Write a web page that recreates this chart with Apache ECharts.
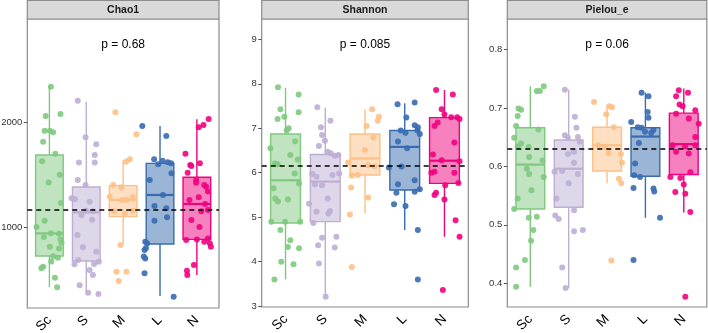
<!DOCTYPE html>
<html><head><meta charset="utf-8">
<script src="https://cdn.jsdelivr.net/npm/echarts@6/dist/echarts.min.js"></script>
<style>html,body{margin:0;padding:0;background:#fff}#c{width:708px;height:333px}</style>
</head><body><div id="c"></div><script>
// ---------- data ----------
const categories = ['Sc', 'S', 'M', 'L', 'N'];
const panelTitles = ['Chao1', 'Shannon', 'Pielou_e'];
const pTexts = ['p = 0.68', 'p = 0.085', 'p = 0.06'];
const meanLines = [1160, 6.15, 0.626];
const yTicksChao1 = [1000, 2000];
const yTicksShannon = [3, 4, 5, 6, 7, 8, 9];
const yTicksPielou = [0.4, 0.5, 0.6, 0.7, 0.8];

// box stats per category: [lower whisker, q1, median, q3, upper whisker]
const chao1Box = [[424, 723, 939, 1688, 2347], [366, 675, 1140, 1382, 2197], [828, 1099, 1258, 1395, 1640], [341, 838, 1306, 1608, 1965], [541, 882, 1220, 1475, 2029]];
const shannonBox = [[3.6, 4.87, 5.83, 6.87, 7.91], [3.21, 4.90, 5.80, 6.41, 7.46], [5.08, 5.95, 6.32, 6.87, 7.43], [4.71, 5.61, 6.58, 6.95, 7.56], [4.56, 5.76, 6.27, 7.24, 7.86]];
const pielouBox = [[0.394, 0.527, 0.603, 0.666, 0.737], [0.392, 0.530, 0.596, 0.645, 0.731], [0.571, 0.592, 0.636, 0.667, 0.705], [0.512, 0.583, 0.651, 0.666, 0.726], [0.521, 0.586, 0.638, 0.691, 0.733]];

// points per category: [jitter offset, value]
const chao1Sc = [[0.04,2340],[0.30,2080],[-0.10,2060],[-0.13,1920],[0.01,1920],[0.10,1905],[-0.17,1815],[0.16,1700],[-0.20,1627],[0.28,1500],[-0.02,1424],[0.31,1230],[-0.13,1060],[-0.35,1000],[0.04,940],[0.26,935],[-0.15,905],[0.30,880],[0.33,850],[0.01,812],[0.26,795],[0.10,720],[0.23,705],[0.05,670],[-0.17,620],[-0.22,605],[0.15,515],[0.21,425]];
const chao1S = [[-0.23,2207],[-0.02,1857],[0.27,1790],[0.23,1688],[0.23,1615],[-0.20,1615],[-0.23,1449],[-0.02,1401],[-0.40,1274],[-0.31,1265],[0.09,1242],[0.00,1156],[0.18,1150],[-0.13,1115],[0.16,1070],[-0.24,924],[-0.09,806],[0.27,764],[-0.22,685],[-0.32,643],[0.21,646],[0.34,668],[0.09,589],[0.18,541],[-0.18,443],[0.05,372],[0.33,360]];
const chao1M = [[-0.21,2095],[0.36,1885],[0.18,1647],[0.08,1624],[-0.27,1401],[-0.05,1380],[-0.36,1290],[0.26,1284],[-0.03,1258],[0.10,1260],[0.26,1156],[-0.25,1150],[0.05,1130],[-0.07,828],[-0.18,573],[0.09,573],[-0.12,484]];
const chao1L = [[-0.48,1965],[0.17,1869],[-0.16,1647],[0.07,1633],[0.21,1618],[0.30,1610],[-0.05,1600],[0.31,1513],[-0.28,1449],[0.08,1306],[-0.15,1200],[0.17,1178],[0.19,1093],[-0.15,1060],[-0.40,860],[-0.35,844],[-0.38,800],[-0.42,780],[-0.44,717],[-0.40,700],[-0.42,557],[0.37,334]];
const chao1N = [[0.32,2032],[0.18,1975],[0.05,1952],[-0.31,1700],[0.08,1608],[-0.18,1592],[-0.15,1583],[-0.25,1519],[-0.02,1449],[-0.02,1423],[0.20,1400],[0.25,1385],[0.30,1340],[0.05,1283],[-0.20,1258],[0.22,1220],[0.30,1162],[0.12,1150],[-0.15,1067],[0.07,1000],[0.30,890],[-0.29,876],[0.00,880],[0.20,860],[0.35,844],[0.38,812],[-0.08,637],[-0.27,583],[-0.26,541]];

const shannonSc = [[-0.19,7.92],[0.33,7.76],[-0.13,7.43],[0.33,7.36],[-0.03,7.26],[-0.20,7.21],[0.08,7.00],[0.03,6.95],[0.24,6.71],[-0.38,6.55],[0.12,6.40],[0.31,6.30],[-0.27,6.21],[-0.20,6.19],[0.23,5.98],[0.34,5.76],[-0.30,5.65],[-0.26,5.42],[-0.19,5.35],[0.06,5.40],[-0.36,4.90],[-0.01,4.90],[0.37,4.90],[-0.13,4.71],[0.12,4.48],[0.06,4.33],[0.34,4.30],[-0.11,4.00],[0.20,3.94],[-0.28,3.60]];
const shannonS = [[-0.20,7.47],[0.13,7.17],[-0.11,7.02],[-0.08,6.85],[-0.01,6.72],[-0.16,6.60],[0.06,6.47],[0.14,6.44],[0.24,6.38],[0.33,6.40],[-0.33,5.97],[-0.22,5.91],[0.18,5.95],[0.35,5.98],[-0.26,5.74],[-0.08,5.72],[0.06,5.42],[-0.41,5.30],[-0.22,5.12],[0.08,5.08],[0.12,5.14],[-0.30,4.87],[-0.08,4.54],[0.28,4.56],[-0.18,4.37],[0.24,4.32],[-0.16,3.96],[0.01,3.21]];
const shannonM = [[0.18,7.43],[0.04,7.05],[0.35,7.26],[0.32,7.17],[0.21,6.79],[0.00,6.51],[-0.42,6.23],[-0.33,5.93],[-0.18,5.95],[0.25,6.14],[0.08,6.17],[-0.35,5.67],[0.08,5.44],[-0.38,5.06],[-0.33,3.88]];
const shannonL = [[-0.18,7.54],[0.25,7.58],[0.04,7.24],[0.25,7.07],[0.33,7.02],[0.32,6.95],[0.38,6.87],[0.02,6.90],[-0.10,6.95],[-0.17,6.70],[0.06,6.55],[-0.40,6.12],[-0.08,6.14],[-0.17,5.74],[0.25,5.83],[-0.21,5.55],[0.25,5.57],[0.38,5.63],[-0.27,5.29],[0.02,5.25],[0.33,4.71],[0.33,3.60]];
const shannonN = [[-0.21,7.86],[0.21,7.76],[-0.07,7.43],[0.00,7.31],[0.17,7.25],[0.32,7.25],[0.38,7.21],[-0.17,7.13],[-0.25,7.05],[0.25,6.68],[-0.29,6.41],[-0.07,6.28],[0.38,6.26],[-0.33,6.00],[-0.25,6.02],[0.25,6.00],[0.02,5.72],[0.35,5.77],[-0.25,5.50],[-0.21,5.55],[0.00,5.40],[0.28,4.93],[0.38,4.56],[-0.04,3.36]];

const pielouSc = [[0.35,0.737],[0.17,0.729],[0.25,0.729],[-0.31,0.699],[-0.24,0.697],[-0.33,0.686],[-0.37,0.669],[0.21,0.663],[-0.42,0.649],[-0.24,0.639],[-0.33,0.634],[-0.04,0.633],[-0.03,0.616],[0.32,0.610],[-0.09,0.596],[0.35,0.582],[-0.03,0.587],[0.03,0.559],[-0.33,0.545],[-0.42,0.527],[-0.04,0.512],[0.17,0.514],[0.08,0.491],[0.02,0.473],[-0.14,0.440],[-0.37,0.427],[-0.37,0.394]];
const pielouS = [[-0.10,0.731],[0.16,0.685],[0.20,0.666],[-0.10,0.653],[-0.02,0.649],[0.24,0.650],[0.29,0.642],[0.14,0.625],[-0.02,0.621],[0.14,0.606],[-0.17,0.592],[-0.37,0.591],[0.24,0.587],[0.00,0.571],[-0.32,0.545],[0.14,0.525],[-0.35,0.516],[-0.26,0.510],[0.37,0.491],[0.14,0.489],[-0.17,0.427],[-0.08,0.392]];
const pielouM = [[-0.34,0.710],[0.06,0.703],[0.13,0.701],[-0.02,0.689],[0.18,0.667],[-0.23,0.636],[-0.06,0.633],[0.04,0.623],[0.36,0.621],[0.39,0.606],[0.31,0.579],[0.37,0.571],[0.11,0.439]];
const pielouL = [[-0.10,0.726],[0.08,0.720],[0.06,0.693],[0.08,0.683],[-0.37,0.676],[-0.20,0.667],[-0.10,0.666],[-0.01,0.659],[0.15,0.657],[0.21,0.662],[-0.17,0.640],[-0.27,0.605],[-0.29,0.585],[-0.14,0.582],[-0.31,0.563],[0.21,0.562],[0.23,0.557],[0.38,0.512],[-0.31,0.440]];
const pielouN = [[-0.13,0.730],[0.11,0.726],[-0.20,0.720],[-0.11,0.706],[-0.03,0.703],[0.30,0.696],[-0.20,0.690],[0.13,0.682],[0.39,0.673],[0.30,0.650],[-0.29,0.636],[0.03,0.634],[0.30,0.636],[-0.20,0.625],[0.13,0.622],[0.17,0.590],[-0.35,0.582],[-0.09,0.580],[0.00,0.569],[-0.22,0.556],[0.04,0.553],[0.17,0.522],[0.04,0.377]];

// ---------- styling / layout ----------
const colors = ['#7FC97F', '#BEAED4', '#FDC086', '#386CB0', '#F0027F'];
const panels = [
  {left: 27.3, width: 191.7, top: 19, height: 289, min: 226, max: 2987, ticks: yTicksChao1, box: chao1Box, pts: [chao1Sc, chao1S, chao1M, chao1L, chao1N]},
  {left: 261.7, width: 206.6, top: 19, height: 288, min: 2.98, max: 9.457, ticks: yTicksShannon, box: shannonBox, pts: [shannonSc, shannonS, shannonM, shannonL, shannonN]},
  {left: 507.3, width: 199.5, top: 19, height: 288, min: 0.3595, max: 0.852, ticks: yTicksPielou, box: pielouBox, pts: [pielouSc, pielouS, pielouM, pielouL, pielouN]}
];
const FONT = '"Liberation Sans", Arial, sans-serif';
const BORDER = '#8c8c8c';

function rgba(hex, a) {
  const n = parseInt(hex.slice(1), 16);
  return 'rgba(' + ((n >> 16) & 255) + ',' + ((n >> 8) & 255) + ',' + (n & 255) + ',' + a + ')';
}

function renderBox(params, api) {
  const i = api.value(0);
  const col = colors[i - 1];
  const lo = api.coord([i, api.value(1)]);
  const q1 = api.coord([i, api.value(2)]);
  const md = api.coord([i, api.value(3)]);
  const q3 = api.coord([i, api.value(4)]);
  const hi = api.coord([i, api.value(5)]);
  const hw = api.coord([i + 0.375, api.value(3)])[0] - md[0];
  return {
    type: 'group',
    children: [
      {type: 'line', shape: {x1: lo[0], y1: lo[1], x2: q1[0], y2: q1[1]}, style: {stroke: col, lineWidth: 1.4}},
      {type: 'line', shape: {x1: q3[0], y1: q3[1], x2: hi[0], y2: hi[1]}, style: {stroke: col, lineWidth: 1.4}},
      {type: 'rect', shape: {x: md[0] - hw, y: q3[1], width: 2 * hw, height: q1[1] - q3[1]}, style: {fill: rgba(col, 0.5), stroke: col, lineWidth: 1.4}},
      {type: 'line', shape: {x1: md[0] - hw, y1: md[1], x2: md[0] + hw, y2: md[1]}, style: {stroke: col, lineWidth: 2.2}}
    ]
  };
}

const grid = [], xAxis = [], yAxis = [], series = [], graphic = [];
panels.forEach((p, k) => {
  grid.push({left: p.left, top: p.top, width: p.width, height: p.height, show: true, borderColor: BORDER, borderWidth: 1.2, backgroundColor: '#fff', containLabel: false, outerBoundsMode: 'none'});
  xAxis.push({
    type: 'value', gridIndex: k, min: 0.4, max: 5.6,
    splitLine: {show: false}, axisLine: {show: false}, axisTick: {show: false},
    axisLabel: {
      customValues: [1, 2, 3, 4, 5], rotate: 45, margin: 10,
      fontSize: 13.5, color: '#000', fontFamily: FONT,
      formatter: v => categories[Math.round(v) - 1] || ''
    }
  });
  yAxis.push({
    type: 'value', gridIndex: k, min: p.min, max: p.max,
    splitLine: {show: false}, axisLine: {show: false},
    axisTick: {show: true, length: 3.5, customValues: p.ticks, lineStyle: {color: '#555', width: 1}},
    axisLabel: {customValues: p.ticks, margin: 5, fontSize: 9.5, color: '#333', fontFamily: FONT, formatter: v => String(v)}
  });
  series.push({
    type: 'custom', xAxisIndex: k, yAxisIndex: k, renderItem: renderBox, z: 2,
    encode: {x: 0, y: [1, 2, 3, 4, 5]},
    data: p.box.map((b, i) => [i + 1].concat(b))
  });
  p.pts.forEach((arr, i) => {
    const s = {
      type: 'scatter', xAxisIndex: k, yAxisIndex: k, z: 3,
      symbolSize: 6, itemStyle: {color: colors[i], opacity: 0.9},
      data: arr.map(d => [i + 1 + d[0], d[1]])
    };
    if (i === 0) {
      s.markLine = {
        silent: true, symbol: 'none', z: 4, animation: false,
        label: {show: false},
        lineStyle: {color: '#000', type: [5, 4], width: 1.5},
        data: [{yAxis: meanLines[k]}]
      };
    }
    series.push(s);
  });
  graphic.push({type: 'rect', shape: {x: p.left, y: 0.5, width: p.width, height: p.top - 0.5}, style: {fill: '#d9d9d9', stroke: BORDER, lineWidth: 1.2}, z: 10});
  graphic.push({type: 'text', x: p.left + p.width / 2, y: p.top / 2 + 0.5, style: {text: panelTitles[k], font: 'bold 10.5px ' + FONT, fill: '#1a1a1a', textAlign: 'center', textVerticalAlign: 'middle'}, z: 11});
  graphic.push({type: 'text', x: p.left + p.width / 2, y: 45, style: {text: pTexts[k], font: '12px ' + FONT, fill: '#000', textAlign: 'center', textVerticalAlign: 'middle'}, z: 11});
});

const chart = echarts.init(document.getElementById('c'), null, {renderer: 'canvas'});
chart.setOption({animation: false, backgroundColor: '#fff', grid, xAxis, yAxis, series, graphic});
</script></body></html>
